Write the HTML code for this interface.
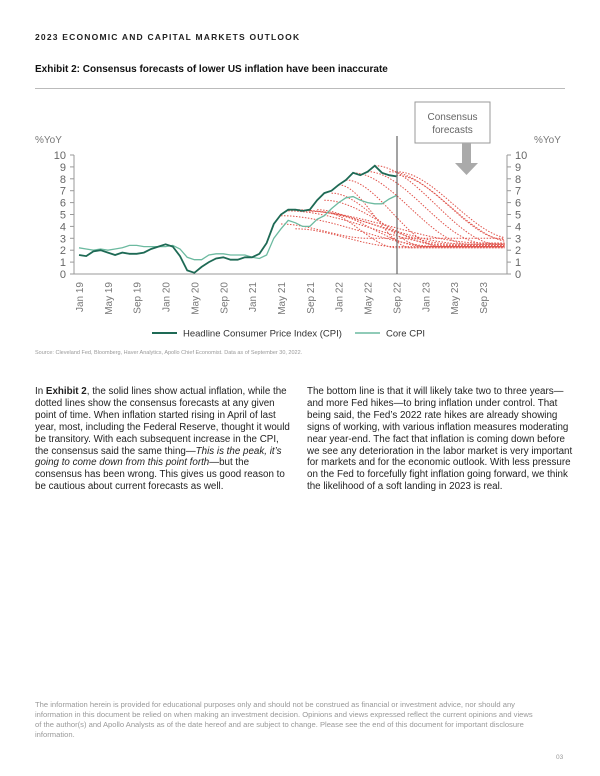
<!DOCTYPE html>
<html><head><meta charset="utf-8">
<style>
body{margin:0;background:#fff;width:600px;height:776px;position:relative;overflow:hidden;font-family:"Liberation Sans",sans-serif;color:#222}
.a{position:absolute;white-space:nowrap}
.col{position:absolute;top:386px;font-size:9.8px;line-height:11.9px;color:#222;white-space:normal}
</style></head><body>
<div class="a" style="left:35px;top:32px;font-size:8.5px;font-weight:bold;letter-spacing:1.2px;color:#222">2023 ECONOMIC AND CAPITAL MARKETS OUTLOOK</div>
<div class="a" style="left:35px;top:64px;font-size:10px;font-weight:bold;color:#111">Exhibit 2: Consensus forecasts of lower US inflation have been inaccurate</div>
<div class="a" style="left:35px;top:88px;width:530px;height:1px;background:#bbb"></div>
<svg class="a" style="left:0;top:0" width="600" height="380" font-family="Liberation Sans, sans-serif">
<g id="g"></g>
</svg>
<div class="a" style="left:35px;top:350px;font-size:5.5px;color:#999">Source: Cleveland Fed, Bloomberg, Haver Analytics, Apollo Chief Economist. Data as of September 30, 2022.</div>
<div class="col" style="left:35px;width:260px">In <b>Exhibit 2</b>, the solid lines show actual inflation, while the dotted lines show the consensus forecasts at any given point of time. When inflation started rising in April of last year, most, including the Federal Reserve, thought it would be transitory. With each subsequent increase in the CPI, the consensus said the same thing—<i>This is the peak, it’s going to come down from this point forth</i>—but the consensus has been wrong. This gives us good reason to be cautious about current forecasts as well.</div>
<div class="col" style="left:307px;width:266px">The bottom line is that it will likely take two to three years—and more Fed hikes—to bring inflation under control. That being said, the Fed’s 2022 rate hikes are already showing signs of working, with various inflation measures moderating near year-end. The fact that inflation is coming down before we see any deterioration in the labor market is very important for markets and for the economic outlook. With less pressure on the Fed to forcefully fight inflation going forward, we think the likelihood of a soft landing in 2023 is real.</div>
<div class="col" style="left:35px;top:700px;width:500px;font-size:7.6px;line-height:10px;color:#999">The information herein is provided for educational purposes only and should not be construed as financial or investment advice, nor should any information in this document be relied on when making an investment decision. Opinions and views expressed reflect the current opinions and views of the author(s) and Apollo Analysts as of the date hereof and are subject to change. Please see the end of this document for important disclosure information.</div>
<div class="a" style="left:556px;top:754px;font-size:6.5px;color:#999">03</div>
<script>
const X0=79,PM=7.214,Y0=274,PU=11.9;
const x=m=>X0+m*PM, y=v=>Y0-v*PU;
let s='';
s+=`<line x1="74" y1="274" x2="507" y2="274" stroke="#999" stroke-width="1"/>`;
s+=`<line x1="74" y1="155" x2="74" y2="274" stroke="#999"/><line x1="507" y1="155" x2="507" y2="274" stroke="#999"/>`;
for(let v=0;v<=10;v++){let yy=y(v);
s+=`<line x1="70" y1="${yy}" x2="74" y2="${yy}" stroke="#999"/><line x1="507" y1="${yy}" x2="511" y2="${yy}" stroke="#999"/>`;
s+=`<text x="66" y="${yy+4}" font-size="11" fill="#666" text-anchor="end">${v}</text><text x="515" y="${yy+4}" font-size="11" fill="#666">${v}</text>`;}
s+=`<text x="35" y="143" font-size="10" fill="#777">%YoY</text><text x="534" y="143" font-size="10" fill="#777">%YoY</text>`;
const lab=["Jan 19","May 19","Sep 19","Jan 20","May 20","Sep 20","Jan 21","May 21","Sep 21","Jan 22","May 22","Sep 22","Jan 23","May 23","Sep 23"];
lab.forEach((l,i)=>{let xx=x(i*4)+4;s+=`<text transform="translate(${xx},282) rotate(-90)" font-size="10" fill="#777" text-anchor="end">${l}</text>`;});
const fc=[[28,4.9,2.3,50],[29,5.3,2.4,52],[30,5.4,2.5,54],[31,5.3,2.6,56],[32,5.3,2.5,52],[33,5.4,2.3,48],[34,6.2,2.4,50],[35,6.8,2.3,48],[36,7.5,2.2,46],[37,7.9,2.3,50],[38,8.5,2.5,54],[40,8.6,2.6,56],[41,9.1,2.5,58],[43,8.6,2.7,60],[44,8.6,3.0,60],[44,8.3,2.9,59],[28,4.2,3.0,40],[30,3.8,2.3,44],[34,5.2,2.2,44]];
fc.forEach(([m,a,b,e])=>{let d='';for(let k=0;k<=40;k++){let t=k/40,mm=m+(59-m)*t;let u=Math.min(1,(mm-m)/(e-m));let sm=u*u*(3-2*u);let v=a+(b-a)*sm;d+=(k?'L':'M')+x(mm).toFixed(1)+','+y(v).toFixed(1);}
s+=`<path d="${d}" fill="none" stroke="#e0524a" stroke-width="1" stroke-dasharray="1.5,1.5"/>`;});
const h=[1.6,1.5,1.9,2.0,1.8,1.6,1.8,1.7,1.7,1.8,2.1,2.3,2.5,2.3,1.5,0.3,0.1,0.6,1.0,1.3,1.4,1.2,1.2,1.4,1.4,1.7,2.6,4.2,5.0,5.4,5.4,5.3,5.4,6.2,6.8,7.0,7.5,7.9,8.5,8.3,8.6,9.1,8.5,8.3,8.2];
const c=[2.2,2.1,2.0,2.1,2.0,2.1,2.2,2.4,2.4,2.3,2.3,2.3,2.3,2.4,2.1,1.4,1.2,1.2,1.6,1.7,1.7,1.6,1.6,1.6,1.4,1.3,1.6,3.0,3.8,4.5,4.3,4.0,4.0,4.6,4.9,5.5,6.0,6.4,6.5,6.2,6.0,5.9,5.9,6.3,6.6];
const P=a=>a.map((v,i)=>(i?'L':'M')+x(i).toFixed(1)+','+y(v).toFixed(1)).join('');
s+=`<path d="${P(c)}" fill="none" stroke="#6cbaa0" stroke-width="1.3"/>`;
s+=`<path d="${P(h)}" fill="none" stroke="#1e6a55" stroke-width="1.8"/>`;
s+=`<line x1="397" y1="136" x2="397" y2="274" stroke="#666" stroke-width="1.2"/>`;
s+=`<rect x="415" y="102" width="75" height="41" fill="#fff" stroke="#999"/>`;
s+=`<text x="452.5" y="120" font-size="10" fill="#666" text-anchor="middle">Consensus</text><text x="452.5" y="133" font-size="10" fill="#666" text-anchor="middle">forecasts</text>`;
s+=`<rect x="462" y="143" width="9" height="20" fill="#aaa"/><polygon points="455,163 478,163 466.5,175" fill="#aaa"/>`;
s+=`<line x1="152" y1="333" x2="177" y2="333" stroke="#1e6a55" stroke-width="2"/><text x="183" y="336.5" font-size="9.5" fill="#333">Headline Consumer Price Index (CPI)</text>`;
s+=`<line x1="355" y1="333" x2="380" y2="333" stroke="#6cbaa0" stroke-width="1.5"/><text x="386" y="336.5" font-size="9.5" fill="#333">Core CPI</text>`;
document.getElementById('g').innerHTML=s;
</script>
</body></html>
